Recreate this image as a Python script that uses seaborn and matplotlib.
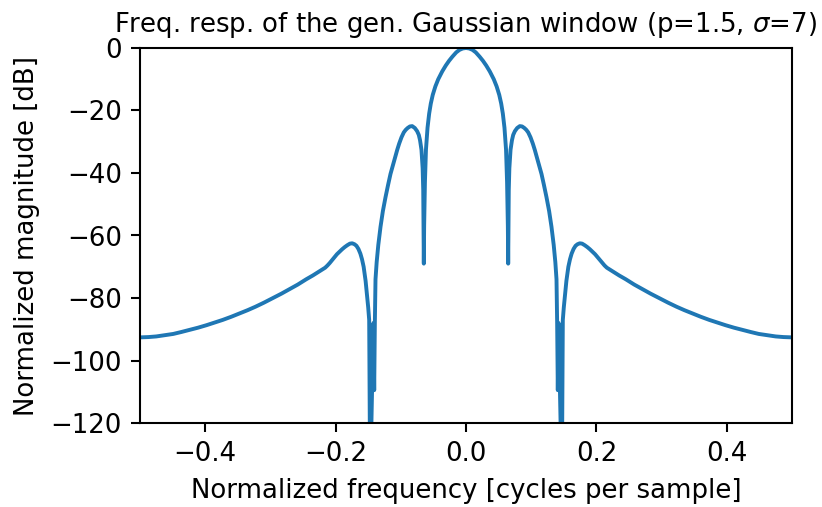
import matplotlib
matplotlib.use("Agg")
import matplotlib.pyplot as plt
import seaborn as sns
import pandas as pd

# Normalized frequency [cycles per sample]
freq = [
    -0.5000, -0.4870, -0.4750, -0.4620, -0.4490, -0.4370, -0.4240, -0.4110,
    -0.3980, -0.3860, -0.3730, -0.3600, -0.3470, -0.3350, -0.3230, -0.3100,
    -0.2960, -0.2830, -0.2700, -0.2580, -0.2450, -0.2350, -0.2250, -0.2160,
    -0.2125, -0.2090, -0.2055, -0.2020, -0.1980, -0.1940, -0.1900, -0.1860,
    -0.1820, -0.1780, -0.1745, -0.1710, -0.1680, -0.1650, -0.1620, -0.1595,
    -0.1570, -0.1540, -0.1516, -0.1500, -0.1485, -0.1470, -0.1420, -0.1408,
    -0.1398, -0.1388, -0.1370, -0.1345, -0.1311, -0.1275, -0.1235, -0.1195,
    -0.1158, -0.1125, -0.1090, -0.1055, -0.1025, -0.0990, -0.0954, -0.0925,
    -0.0895, -0.0860, -0.0825, -0.0785, -0.0750, -0.0724, -0.0705, -0.0683,
    -0.0665, -0.0656, -0.0651, -0.0647, -0.0642, -0.0630, -0.0614, -0.0590,
    -0.0565, -0.0540, -0.0510, -0.0470, -0.0426, -0.0365, -0.0310, -0.0260,
    -0.0210, -0.0150, -0.0100, -0.0050,
    0.0000,
    0.0050, 0.0100, 0.0150, 0.0210, 0.0260, 0.0310, 0.0365, 0.0426,
    0.0470, 0.0510, 0.0540, 0.0565, 0.0590, 0.0614, 0.0630, 0.0642,
    0.0647, 0.0651, 0.0656, 0.0665, 0.0683, 0.0705, 0.0724, 0.0750,
    0.0785, 0.0825, 0.0860, 0.0895, 0.0925, 0.0954, 0.0990, 0.1025,
    0.1055, 0.1090, 0.1125, 0.1158, 0.1195, 0.1235, 0.1275, 0.1311,
    0.1345, 0.1370, 0.1388, 0.1398, 0.1408, 0.1420, 0.1470, 0.1485,
    0.1500, 0.1516, 0.1540, 0.1570, 0.1595, 0.1620, 0.1650, 0.1680,
    0.1710, 0.1745, 0.1780, 0.1820, 0.1860, 0.1900, 0.1940, 0.1980,
    0.2020, 0.2055, 0.2090, 0.2125, 0.2160, 0.2250, 0.2350, 0.2450,
    0.2580, 0.2700, 0.2830, 0.2960, 0.3100, 0.3230, 0.3350, 0.3470,
    0.3600, 0.3730, 0.3860, 0.3980, 0.4110, 0.4240, 0.4370, 0.4490,
    0.4620, 0.4750, 0.4870, 0.5000,
]

# Normalized magnitude [dB]
magnitude = [
    -92.6, -92.5, -92.3, -91.9, -91.5, -90.9, -90.2, -89.5,
    -88.7, -87.9, -87.0, -86.0, -84.9, -83.9, -82.8, -81.5,
    -80.0, -78.6, -77.1, -75.7, -74.0, -72.8, -71.5, -70.3,
    -69.6, -68.8, -67.9, -67.0, -66.0, -65.2, -64.4, -63.7,
    -63.1, -62.6, -62.5, -62.8, -63.3, -64.3, -65.8, -67.6,
    -70.0, -74.5, -79.6, -83.0, -87.0, -140.0, -88.0, -109.5,
    -88.0, -74.0, -68.5, -63.0, -57.2, -52.2, -47.8, -43.8,
    -40.3, -37.8, -35.2, -32.6, -30.6, -28.6, -27.0, -26.2,
    -25.6, -25.1, -25.0, -25.6, -26.6, -27.8, -29.5, -32.6,
    -38.5, -45.4, -58.0, -69.0, -57.0, -43.0, -32.5, -25.5,
    -21.0, -17.8, -15.0, -12.3, -10.0, -7.5, -5.6, -4.1,
    -2.8, -1.4, -0.6, -0.15,
    0.0,
    -0.15, -0.6, -1.4, -2.8, -4.1, -5.6, -7.5, -10.0,
    -12.3, -15.0, -17.8, -21.0, -25.5, -32.5, -43.0, -57.0,
    -69.0, -58.0, -45.4, -38.5, -32.6, -29.5, -27.8, -26.6,
    -25.6, -25.0, -25.1, -25.6, -26.2, -27.0, -28.6, -30.6,
    -32.6, -35.2, -37.8, -40.3, -43.8, -47.8, -52.2, -57.2,
    -63.0, -68.5, -74.0, -88.0, -109.5, -88.0, -140.0, -87.0,
    -83.0, -79.6, -74.5, -70.0, -67.6, -65.8, -64.3, -63.3,
    -62.8, -62.5, -62.6, -63.1, -63.7, -64.4, -65.2, -66.0,
    -67.0, -67.9, -68.8, -69.6, -70.3, -71.5, -72.8, -74.0,
    -75.7, -77.1, -78.6, -80.0, -81.5, -82.8, -83.9, -84.9,
    -86.0, -87.0, -87.9, -88.7, -89.5, -90.2, -90.9, -91.5,
    -91.9, -92.3, -92.5, -92.6,
]

x_ticks = [-0.4, -0.2, 0.0, 0.2, 0.4]
y_ticks = [-120, -100, -80, -60, -40, -20, 0]

title = "Freq. resp. of the gen. Gaussian window (p=1.5, $\\sigma$=7)"
x_label = "Normalized frequency [cycles per sample]"
y_label = "Normalized magnitude [dB]"

sns.set_style("ticks", rc={
    "text.color": "black",
    "axes.labelcolor": "black",
    "xtick.color": "black",
    "ytick.color": "black",
    "axes.edgecolor": "black",
})
plt.rcParams["font.family"] = ["DejaVu Sans"]
plt.rcParams["font.size"] = 10

df = pd.DataFrame({"freq": freq, "mag": magnitude})

DPI = 187
fig, ax = plt.subplots(figsize=(822 / DPI, 507 / DPI), dpi=DPI)
fig.subplots_adjust(left=140 / 822, right=792 / 822, top=1 - 48 / 507, bottom=1 - 423 / 507)

sns.lineplot(data=df, x="freq", y="mag", ax=ax, color="#1f77b4",
             linewidth=1.5, sort=False, estimator=None)

ax.set_xlim(-0.5, 0.5)
ax.set_ylim(-120, 0)
ax.set_xticks(x_ticks)
ax.set_yticks(y_ticks)
ax.set_title(title, fontsize=10)
ax.set_xlabel(x_label, fontsize=10)
ax.set_ylabel(y_label, fontsize=10)
ax.tick_params(labelsize=10, width=0.8, length=3.5)
for s in ax.spines.values():
    s.set_visible(True)
    s.set_linewidth(0.8)

fig.savefig("out.png", dpi=DPI)
